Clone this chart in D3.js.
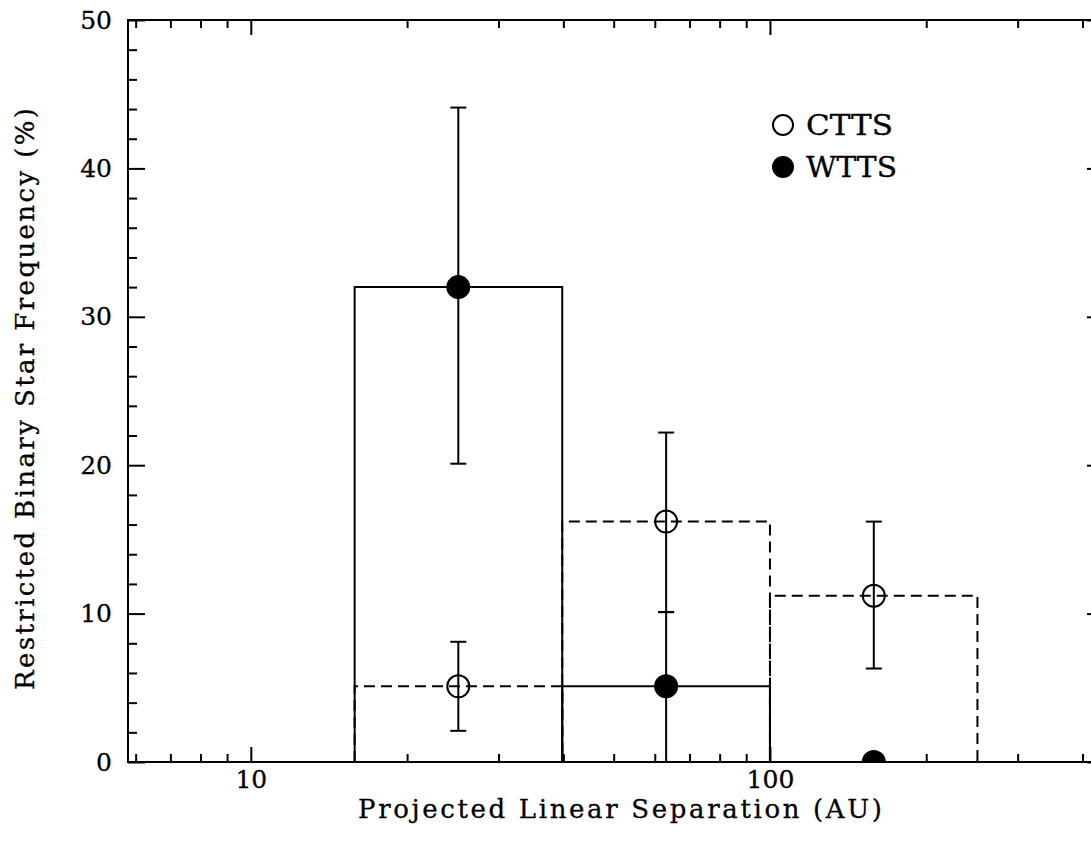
<!DOCTYPE html>
<html>
<head>
<meta charset="utf-8">
<script src="https://cdn.jsdelivr.net/npm/d3@7"></script>
<style>
  html, body { margin: 0; padding: 0; background: #fff; }
  svg { display: block; }
  text { font-family: "DejaVu Serif", "Liberation Serif", serif; fill: #000; }
</style>
</head>
<body>
<script>
// ---- data ----
const binEdges = [15.85, 39.8, 100, 251];
const binCenters = [25.1, 63.1, 158.5];
const cttsValues = [5.1, 16.2, 11.2];
const cttsLow = [2.1, 10.1, 6.3];
const cttsHigh = [8.1, 22.2, 16.2];
const wttsValues = [32.0, 5.1, 0];
const wttsLow = [20.1, 0, null];
const wttsHigh = [44.1, 10.1, null];
const xMajorTicks = [10, 100];
const xMinorTicks = [6, 7, 8, 9, 20, 30, 40, 50, 60, 70, 80, 90, 200, 300, 400];
const yMajorTicks = [0, 10, 20, 30, 40, 50];
const yMinorTicks = [2, 4, 6, 8, 12, 14, 16, 18, 22, 24, 26, 28, 32, 34, 36, 38, 42, 44, 46, 48];
const seriesNames = ["CTTS", "WTTS"];
const xLabel = "Projected Linear Separation (AU)";
const yLabel = "Restricted Binary Star Frequency (%)";

// ---- layout ----
const W = 1091, H = 841;
const pL = 128, pR = 1104, pT = 20, pB = 762;

const svg = d3.select("body").append("svg").attr("width", W).attr("height", H);

const x = d3.scaleLog().domain([5.8, 440]).range([pL, pR]);
const y = d3.scaleLinear().domain([0, 50]).range([pB, pT]);

svg.append("clipPath").attr("id", "plotclip")
  .append("rect").attr("x", pL).attr("y", pT).attr("width", pR - pL).attr("height", pB - pT);

const sw = 2;

// ---- axes ----
function styleAxis(g) {
  g.select(".domain").remove();
  g.selectAll(".tick line").attr("stroke", "#000").attr("stroke-width", sw);
  g.selectAll(".tick text").style("font-family", "DejaVu Serif, serif").style("font-size", "25px")
    .attr("fill", "#000").attr("stroke", "#000").attr("stroke-width", 0.3);
}

svg.append("g").attr("transform", `translate(0,${pB})`)
  .call(d3.axisBottom(x).tickValues(xMajorTicks).tickSize(-15).tickPadding(8).tickFormat(d3.format("d")))
  .call(styleAxis);
svg.append("g").attr("transform", `translate(0,${pB})`)
  .call(d3.axisBottom(x).tickValues(xMinorTicks).tickSize(-8).tickFormat(""))
  .call(styleAxis);
svg.append("g").attr("transform", `translate(0,${pT})`)
  .call(d3.axisTop(x).tickValues(xMajorTicks).tickSize(-15).tickFormat(""))
  .call(styleAxis);
svg.append("g").attr("transform", `translate(0,${pT})`)
  .call(d3.axisTop(x).tickValues(xMinorTicks).tickSize(-8).tickFormat(""))
  .call(styleAxis);

svg.append("g").attr("transform", `translate(${pL},0)`)
  .call(d3.axisLeft(y).tickValues(yMajorTicks).tickSize(-17).tickPadding(16).tickFormat(d3.format("d")))
  .call(styleAxis);
svg.append("g").attr("transform", `translate(${pL},0)`)
  .call(d3.axisLeft(y).tickValues(yMinorTicks).tickSize(-9).tickFormat(""))
  .call(styleAxis);
svg.append("g").attr("transform", `translate(${pR},0)`)
  .call(d3.axisRight(y).tickValues(yMajorTicks).tickSize(-17).tickFormat(""))
  .call(styleAxis);
svg.append("g").attr("transform", `translate(${pR},0)`)
  .call(d3.axisRight(y).tickValues(yMinorTicks).tickSize(-9).tickFormat(""))
  .call(styleAxis);

// frame
svg.append("rect").attr("x", pL).attr("y", pT).attr("width", pR - pL).attr("height", pB - pT)
  .attr("fill", "none").attr("stroke", "#000").attr("stroke-width", sw);

// ---- histograms ----
const plot = svg.append("g").attr("clip-path", "url(#plotclip)");

function boxPath(i, v) {
  const p = d3.path();
  p.moveTo(x(binEdges[i]), y(0));
  p.lineTo(x(binEdges[i]), y(v));
  p.lineTo(x(binEdges[i + 1]), y(v));
  p.lineTo(x(binEdges[i + 1]), y(0));
  return p.toString();
}

cttsValues.forEach((v, i) => {
  if (v > 0) plot.append("path").attr("d", boxPath(i, v)).attr("fill", "none")
    .attr("stroke", "#000").attr("stroke-width", sw).attr("stroke-dasharray", "11,6")
    .attr("stroke-dashoffset", i * 8);
});
wttsValues.forEach((v, i) => {
  if (v > 0) plot.append("path").attr("d", boxPath(i, v)).attr("fill", "none")
    .attr("stroke", "#000").attr("stroke-width", sw);
});

// ---- error bars ----
const cap = 8;
function errBar(xc, lo, hi) {
  plot.append("line").attr("x1", x(xc)).attr("x2", x(xc)).attr("y1", y(lo)).attr("y2", y(hi))
    .attr("stroke", "#000").attr("stroke-width", sw);
  [lo, hi].forEach(v => {
    plot.append("line").attr("x1", x(xc) - cap).attr("x2", x(xc) + cap).attr("y1", y(v)).attr("y2", y(v))
      .attr("stroke", "#000").attr("stroke-width", sw);
  });
}
binCenters.forEach((c, i) => {
  if (cttsLow[i] !== null) errBar(c, cttsLow[i], cttsHigh[i]);
  if (wttsLow[i] !== null) errBar(c, wttsLow[i], wttsHigh[i]);
});

// ---- markers ----
binCenters.forEach((c, i) => {
  plot.append("circle").attr("cx", x(c)).attr("cy", y(cttsValues[i])).attr("r", 11)
    .attr("fill", "none").attr("stroke", "#000").attr("stroke-width", sw);
  plot.append("circle").attr("cx", x(c)).attr("cy", y(wttsValues[i])).attr("r", 12)
    .attr("fill", "#000");
});

// ---- legend ----
const lg = svg.append("g");
lg.append("circle").attr("cx", 783).attr("cy", 125).attr("r", 10)
  .attr("fill", "none").attr("stroke", "#000").attr("stroke-width", 2);
lg.append("circle").attr("cx", 783).attr("cy", 167).attr("r", 11).attr("fill", "#000");
lg.append("text").attr("x", 806).attr("y", 135).style("font-size", "27px")
  .attr("stroke", "#000").attr("stroke-width", 0.3)
  .attr("textLength", 87).attr("lengthAdjust", "spacingAndGlyphs").text(seriesNames[0]);
lg.append("text").attr("x", 806).attr("y", 177).style("font-size", "27px")
  .attr("stroke", "#000").attr("stroke-width", 0.3)
  .attr("textLength", 91).attr("lengthAdjust", "spacingAndGlyphs").text(seriesNames[1]);

// ---- axis labels ----
svg.append("text").attr("x", 358).attr("y", 818).style("font-size", "26px")
  .attr("stroke", "#000").attr("stroke-width", 0.3)
  .attr("textLength", 524).attr("lengthAdjust", "spacing").text(xLabel);
svg.append("text").attr("transform", "translate(34,690) rotate(-90)").attr("x", 0).attr("y", 0)
  .style("font-size", "26px").attr("stroke", "#000").attr("stroke-width", 0.3)
  .attr("textLength", 582).attr("lengthAdjust", "spacing").text(yLabel);
</script>
</body>
</html>
